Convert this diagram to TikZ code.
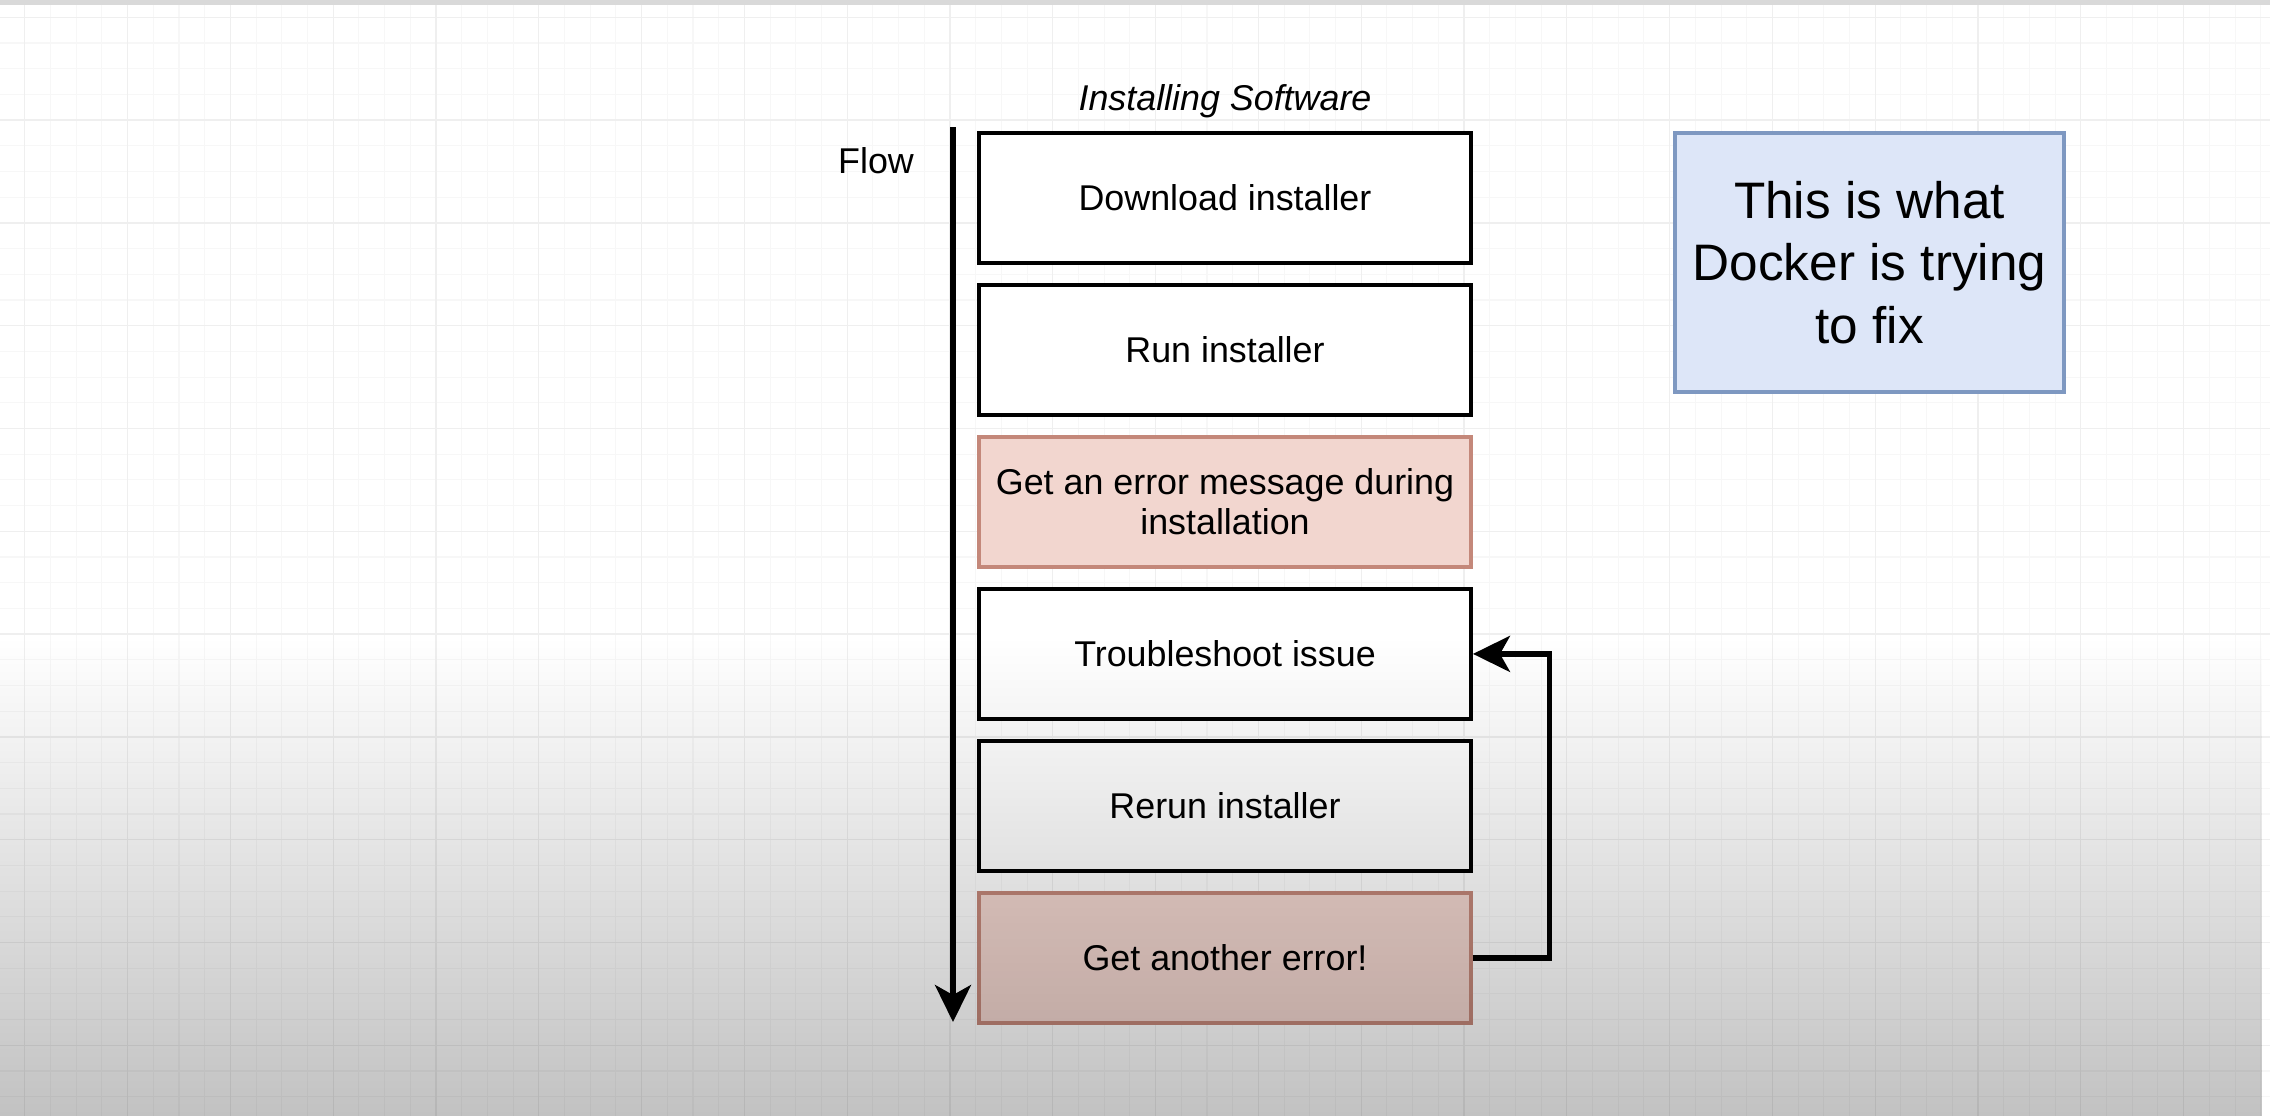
\documentclass[tikz,border=0pt]{standalone}
\usepackage{fontspec}
\setmainfont{Liberation Sans}
\usetikzlibrary{positioning,arrows.meta,fadings}
\definecolor{errfill}{HTML}{F2D6CF}
\definecolor{errdraw}{HTML}{C4887A}
\definecolor{notefill}{HTML}{DDE6F8}
\definecolor{notedraw}{HTML}{7E98C1}
\definecolor{gridminor}{HTML}{F7F7F7}
\definecolor{gridmajor}{HTML}{EFEFEF}
\tikzfading[name=fade bottom, top color=transparent!100, bottom color=transparent!76]
\tikzset{
    block/.style = {draw, rectangle, line width=2.3pt, fill=white,
        minimum height=2.6cm,
        minimum width=9.84cm, inner sep=0pt, align=center,
        font=\fontsize{20.4pt}{23pt}\selectfont},
    errblock/.style = {block, draw=errdraw, fill=errfill, line width=2pt},
    note/.style = {draw=notedraw, fill=notefill, rectangle, line width=2.3pt,
        minimum height=5.18cm, minimum width=7.78cm, inner sep=0pt, align=center,
        font=\fontsize{29.2pt}{35.4pt}\selectfont},
    txt/.style = {font=\fontsize{20.4pt}{23pt}\selectfont},
    flow/.style = {draw, line width=3pt, -{Stealth[length=0.74cm,width=0.72cm,inset=0.2cm]}},
    gridline/.style = {draw=gridminor, line width=0.6pt},
    gridbold/.style = {draw=gridmajor, line width=0.7pt}
}

\begin{document}
\begin{tikzpicture}[x=0.02cm, y=-0.02cm, node distance=3.04cm]
    \fill [white] (0,0) rectangle (2270,1116);
    \useasboundingbox (0,0) rectangle (2270,1116);
    \foreach \i in {0,...,87}
        \draw [gridline] ({24.8+25.7*\i},0) -- ({24.8+25.7*\i},1116);
    \foreach \j in {0,...,43}
        \draw [gridline] (0,{17.3+25.7*\j}) -- (2270,{17.3+25.7*\j});
    \foreach \i in {0,...,21}
        \draw [gridbold] ({24.8+102.8*\i},0) -- ({24.8+102.8*\i},1116);
    \foreach \j in {0,...,10}
        \draw [gridbold] (0,{17.3+102.8*\j}) -- (2270,{17.3+102.8*\j});
    \fill [black!15] (0,0) rectangle (2270,5);

    \node [txt] (title) at (1225,101) {\itshape Installing Software};
    \node [block] (dl) at (1225,198) {Download installer};
    \node [block, below of=dl] (run) {Run installer};
    \node [errblock, below of=run] (err) {Get an error message during\\installation};
    \node [block, below of=err] (trouble) {Troubleshoot issue};
    \node [block, below of=trouble] (rerun) {Rerun installer};
    \node [errblock, below of=rerun] (err2) {Get another error!};
    \node [txt] (flow) at (876,161) {Flow};
    \node [note] (docker) at (1869.5,262.5) {This is what\\Docker is trying\\to fix};

    \coordinate (ftop) at (953,127);
    \coordinate (fend) at (953,1022);
    \draw [flow] (ftop) -- (fend);
    \draw [flow] (err2.east) -- ++(1.54cm,0) |- (trouble.east);

    \fill [black, path fading=fade bottom] (0,637) rectangle (2270,1116);
\end{tikzpicture}
\end{document}
